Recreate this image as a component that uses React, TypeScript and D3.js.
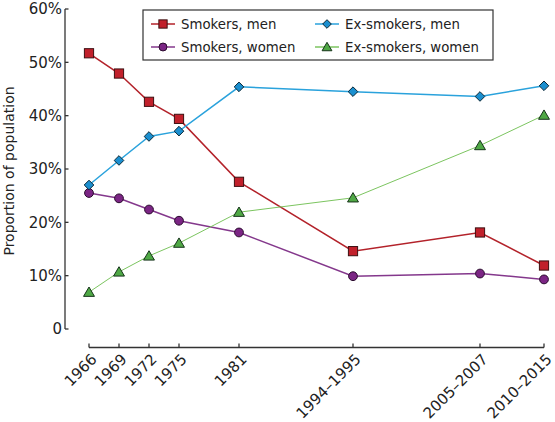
import React from "react";
import * as d3 from "d3";

const categories = ["1966", "1969", "1972", "1975", "1981", "1994–1995", "2005–2007", "2010–2015"];
// plotted position of each category on the time axis (years)
const plotYears = [1966, 1969, 1972, 1975, 1981, 1992.4, 2005.1, 2011.5];

const smokersMen = [51.7, 47.9, 42.6, 39.4, 27.6, 14.6, 18.1, 11.9];
const exSmokersMen = [27.0, 31.6, 36.1, 37.1, 45.4, 44.5, 43.6, 45.6];
const smokersWomen = [25.5, 24.5, 22.4, 20.3, 18.1, 9.9, 10.4, 9.3];
const exSmokersWomen = [6.9, 10.7, 13.7, 16.1, 21.9, 24.6, 34.4, 40.1];

const yTicks = [0, 10, 20, 30, 40, 50, 60];
const yTickLabels = ["0", "10%", "20%", "30%", "40%", "50%", "60%"];

type Shape = "square" | "circle" | "diamond" | "triangle";
interface Series {
  name: string;
  values: number[];
  line: string;
  lineWidth: number;
  fill: string;
  stroke: string;
  shape: Shape;
}

const series: Series[] = [
  { name: "Smokers, men", values: smokersMen, line: "#b3222a", lineWidth: 1.5, fill: "#c1202b", stroke: "#3d1012", shape: "square" },
  { name: "Smokers, women", values: smokersWomen, line: "#84388c", lineWidth: 1.5, fill: "#7b2584", stroke: "#2a0b2d", shape: "circle" },
  { name: "Ex-smokers, men", values: exSmokersMen, line: "#2aa2dc", lineWidth: 1.5, fill: "#1b8fcf", stroke: "#0b2736", shape: "diamond" },
  { name: "Ex-smokers, women", values: exSmokersWomen, line: "#7cc560", lineWidth: 1, fill: "#4fa845", stroke: "#16341a", shape: "triangle" },
];

const W = 555;
const H = 422;
const FONT = "'DejaVu Sans', sans-serif";

const x = d3.scaleLinear().domain([1966, 2011.5]).range([89, 544]);
const y = d3.scaleLinear().domain([0, 60]).range([329, 9]);

function Marker({ shape, cx, cy, fill, stroke, s = 1 }: { shape: Shape; cx: number; cy: number; fill: string; stroke: string; s?: number }) {
  const common = { fill, stroke, strokeWidth: 1 };
  if (shape === "square") {
    const h = 4.6 * s;
    return <rect x={cx - h} y={cy - h} width={2 * h} height={2 * h} {...common} />;
  }
  if (shape === "circle") {
    return <circle cx={cx} cy={cy} r={4.4 * s} {...common} />;
  }
  if (shape === "diamond") {
    const h = 4.8 * s;
    return <path d={`M${cx},${cy - h}L${cx + h},${cy}L${cx},${cy + h}L${cx - h},${cy}Z`} {...common} />;
  }
  const h = 5.2 * s;
  return <path d={`M${cx},${cy - h}L${cx + h * 1.05},${cy + h * 0.8}L${cx - h * 1.05},${cy + h * 0.8}Z`} {...common} />;
}

export default function App() {
  const line = d3
    .line<number>()
    .x((_, i) => x(plotYears[i]))
    .y((v) => y(v));

  const axisX0 = 65;
  const xAxisY = 347.5;

  const legendRows = [24, 47];
  const legendCols = [151, 315];

  return (
    <svg width={W} height={H} style={{ position: "absolute", left: 0, top: 0, background: "#fff" }} fontFamily={FONT}>
      {/* Y axis */}
      <line x1={axisX0} x2={axisX0} y1={y(60)} y2={y(0)} stroke="#333" strokeWidth={1.3} />
      {yTicks.map((t, i) => (
        <g key={t}>
          <line x1={axisX0} x2={axisX0 + 3.5} y1={y(t)} y2={y(t)} stroke="#333" strokeWidth={1.3} />
          <text x={62} y={y(t)} dy="0.36em" textAnchor="end" fontSize={15} fill="#222">
            {yTickLabels[i]}
          </text>
        </g>
      ))}
      <text transform={`translate(14,${y(30) + 2}) rotate(-90)`} textAnchor="middle" fontSize={14} fill="#222">
        Proportion of population
      </text>

      {/* X axis */}
      <line x1={x(plotYears[0])} x2={x(plotYears[plotYears.length - 1])} y1={xAxisY} y2={xAxisY} stroke="#333" strokeWidth={1.3} />
      {categories.map((c, i) => (
        <g key={c}>
          <line x1={x(plotYears[i])} x2={x(plotYears[i])} y1={xAxisY} y2={xAxisY - 4} stroke="#333" strokeWidth={1.3} />
          <text
            transform={`translate(${x(plotYears[i]) + 5},${xAxisY + 9}) rotate(-45)`}
            textAnchor="end"
            dy="0.35em"
            fontSize={15}
            fill="#222"
          >
            {c}
          </text>
        </g>
      ))}

      {/* Lines */}
      {series.map((s) => (
        <path key={s.name} d={line(s.values) || ""} fill="none" stroke={s.line} strokeWidth={s.lineWidth} />
      ))}
      {/* Markers */}
      {series.map((s) => (
        <g key={s.name + "-m"}>
          {s.values.map((v, i) => (
            <Marker key={i} shape={s.shape} cx={x(plotYears[i])} cy={y(v)} fill={s.fill} stroke={s.stroke} />
          ))}
        </g>
      ))}

      {/* Legend */}
      <rect x={143} y={10} width={350} height={50} fill="#fff" stroke="#333" strokeWidth={1.2} />
      {series.map((s, i) => {
        const col = Math.floor(i / 2);
        const row = i % 2;
        const lx = legendCols[col];
        const ly = legendRows[row];
        return (
          <g key={s.name + "-lg"}>
            <line x1={lx} x2={lx + 24} y1={ly} y2={ly} stroke={s.line} strokeWidth={1.5} />
            <Marker shape={s.shape} cx={lx + 12} cy={ly} fill={s.fill} stroke={s.stroke} s={0.9} />
            <text x={lx + 30} y={ly} dy="0.36em" fontSize={13.3} fill="#222">
              {s.name}
            </text>
          </g>
        );
      })}
    </svg>
  );
}
